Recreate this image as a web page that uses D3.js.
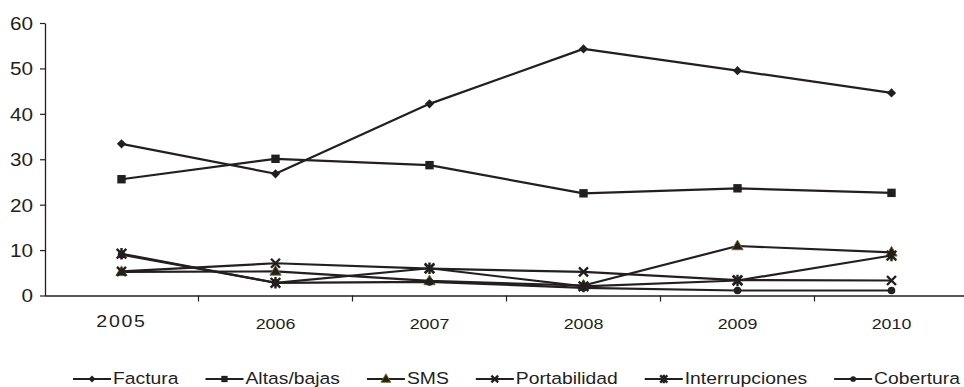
<!DOCTYPE html>
<html>
<head>
<meta charset="utf-8">
<script src="https://cdn.jsdelivr.net/npm/d3@7"></script>
<style>
  html, body { margin: 0; padding: 0; background: #fff; }
  svg { display: block; font-family: "Liberation Sans", Arial, sans-serif; }
  .wide { transform-box: fill-box; transform-origin: center; transform: scaleX(1.15); }
</style>
</head>
<body>
<svg id="chart" width="964" height="387"></svg>
<script>
// Years on the category axis
const years = ["2005", "2006", "2007", "2008", "2009", "2010"];
// Y axis tick values
const yTicks = [0, 10, 20, 30, 40, 50, 60];

// One array per series, in year order
const factura        = [33.4, 26.8, 42.2, 54.3, 49.5, 44.6];
const altasBajas     = [25.6, 30.1, 28.7, 22.5, 23.6, 22.6];
const sms            = [5.2, 5.3, 3.2, 2.2, 10.9, 9.5];
const portabilidad   = [5.3, 7.1, 5.9, 5.2, 3.4, 3.3];
const interrupciones = [9.2, 2.8, 6.0, 2.0, 3.3, 8.8];
const cobertura      = [9.0, 2.8, 3.0, 1.7, 1.1, 1.1];

const seriesNames = ["Factura", "Altas/bajas", "SMS", "Portabilidad", "Interrupciones", "Cobertura"];
const seriesValues = [factura, altasBajas, sms, portabilidad, interrupciones, cobertura];
const seriesMarkers = ["diamond", "square", "triangle", "cross", "asterisk", "circle"];

const ink = "#231f20";
const svg = d3.select("#chart");

const x = d3.scaleBand().domain(years).range([44.5, 44.5 + 6 * 154]).padding(0);
const y = d3.scaleLinear().domain([0, 60]).range([295.5, 23]);
const cx = d => x(d) + x.bandwidth() / 2;

// Y axis
const yAxis = svg.append("g")
  .attr("transform", "translate(45,0)")
  .call(d3.axisLeft(y).tickValues(yTicks).tickSize(5).tickPadding(7).tickSizeOuter(0));
yAxis.select(".domain").attr("stroke", ink).attr("stroke-width", 1.3);
yAxis.selectAll(".tick line").attr("stroke", ink).attr("stroke-width", 1.2);
yAxis.selectAll(".tick text")
  .attr("fill", ink).attr("font-size", 18).attr("dy", "0.36em")
  .attr("font-family", "Liberation Sans, Arial, sans-serif")
  .each(function() { this.style.transformBox = "fill-box"; this.style.transformOrigin = "right center"; this.style.transform = "scaleX(1.15)"; });

// X axis: labels centred in each band, tick marks on band boundaries
const xAxis = svg.append("g")
  .attr("transform", "translate(0,295.5)")
  .call(d3.axisBottom(x).tickSize(0).tickPadding(22).tickSizeOuter(0));
xAxis.select(".domain").attr("stroke", ink).attr("stroke-width", 1.3);
xAxis.selectAll(".tick text")
  .attr("fill", ink).attr("font-size", 15.5)
  .attr("font-family", "Liberation Sans, Arial, sans-serif")
  .classed("wide", true);
xAxis.selectAll(".tick text").filter(d => d === "2005")
  .attr("font-size", 17).attr("letter-spacing", "1.5px").attr("dy", "0.55em");
xAxis.selectAll(".boundary")
  .data(years.slice(1))
  .join("line")
  .attr("class", "boundary")
  .attr("x1", d => x(d)).attr("x2", d => x(d))
  .attr("y1", 0).attr("y2", 6)
  .attr("stroke", ink).attr("stroke-width", 1.2);

// Marker shapes
function drawMarker(g, type, px, py, s) {
  s = s || 1;
  if (type === "diamond") {
    const h = 4.6 * s;
    g.append("path").attr("d", `M${px},${py - h}L${px + h},${py}L${px},${py + h}L${px - h},${py}Z`)
      .attr("fill", ink);
  } else if (type === "square") {
    const h = 4.2 * s;
    g.append("rect").attr("x", px - h).attr("y", py - h).attr("width", 2 * h).attr("height", 2 * h).attr("fill", ink);
  } else if (type === "triangle") {
    g.append("path").attr("d", d3.symbol(d3.symbolTriangle, 55 * s)())
      .attr("transform", `translate(${px},${py + 0.5})`).attr("fill", ink)
      .attr("stroke", "#7a6a10").attr("stroke-width", 0.9);
  } else if (type === "cross") {
    const h = 4.5 * s;
    g.append("path").attr("d", `M${px - h},${py - h}L${px + h},${py + h}M${px - h},${py + h}L${px + h},${py - h}`)
      .attr("stroke", ink).attr("stroke-width", 2.4).attr("fill", "none");
  } else if (type === "asterisk") {
    const h = 4.8 * s;
    g.append("path").attr("d", `M${px - h},${py - h}L${px + h},${py + h}M${px - h},${py + h}L${px + h},${py - h}M${px},${py - h * 1.2}L${px},${py + h * 1.2}`)
      .attr("stroke", ink).attr("stroke-width", 2.4).attr("fill", "none");
  } else if (type === "circle") {
    g.append("circle").attr("cx", px).attr("cy", py).attr("r", 3.8 * s).attr("fill", ink);
  }
}

// Lines and markers
const line = d3.line().x((d, i) => cx(years[i])).y(d => y(d));
const plot = svg.append("g");
seriesValues.forEach((vals, k) => {
  const g = plot.append("g");
  g.append("path").datum(vals).attr("d", line)
    .attr("fill", "none").attr("stroke", ink).attr("stroke-width", 2.2).attr("stroke-linejoin", "round");
  vals.forEach((v, i) => drawMarker(g, seriesMarkers[k], cx(years[i]), y(v)));
});

// Legend along the bottom
const legend = svg.append("g");
const legendScale = 1.15;
let lx = 73;
seriesNames.forEach((name, k) => {
  const g = legend.append("g");
  g.append("line").attr("x1", lx).attr("x2", lx + 38).attr("y1", 379).attr("y2", 379)
    .attr("stroke", ink).attr("stroke-width", 2.2);
  drawMarker(g, seriesMarkers[k], lx + 19, 379, 0.75);
  const t = g.append("text").attr("x", lx + 40).attr("y", 384.5)
    .attr("fill", ink).attr("font-size", 16.8).text(name);
  t.node().style.transformBox = "fill-box";
  t.node().style.transformOrigin = "left center";
  t.node().style.transform = `scaleX(${legendScale})`;
  const w = t.node().getComputedTextLength() * legendScale;
  lx = lx + 40 + w + 27;
});
</script>
</body>
</html>
